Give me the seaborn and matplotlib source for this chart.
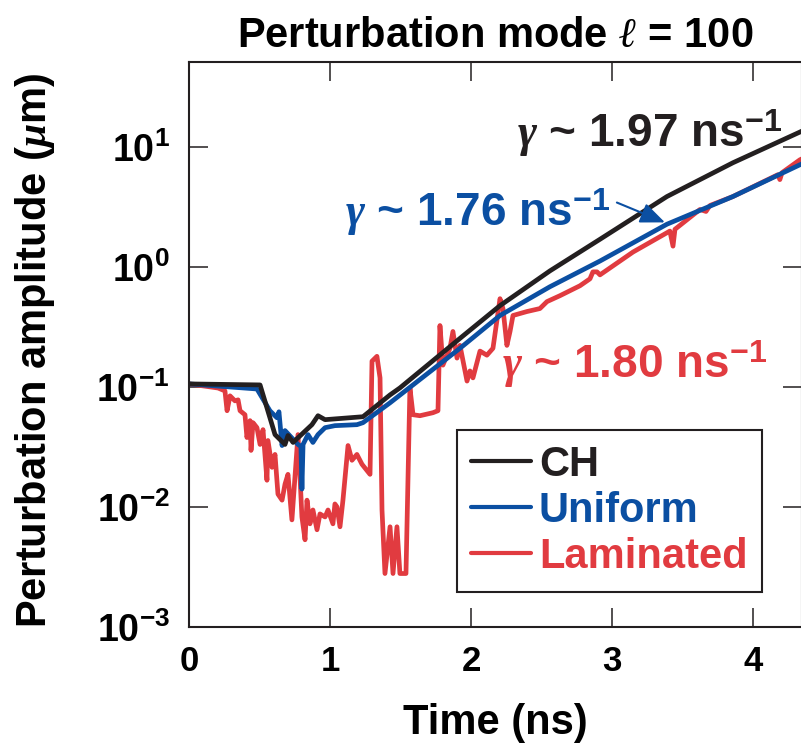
import numpy as np
import pandas as pd
import matplotlib
matplotlib.use("Agg")
import matplotlib.pyplot as plt
import seaborn as sns
from matplotlib.lines import Line2D
from matplotlib.ticker import FixedLocator, NullLocator

# ---------------- data ----------------
ch_time = [0.000, 0.504, 0.610, 0.645, 0.681, 0.702, 0.738, 0.872, 0.915, 0.965,
           1.234, 1.426, 1.496, 1.922, 2.206, 2.560, 2.915, 3.390, 3.858, 4.333, 4.400]
ch_amp = [0.106, 0.104, 0.0401, 0.0365, 0.0332, 0.0394, 0.0345, 0.0485, 0.0576, 0.0534,
          0.0565, 0.0859, 0.0982, 0.254, 0.476, 0.927, 1.70, 3.86, 7.38, 13.3, 14.5]

uni_time = [0.000, 0.482, 0.574, 0.624, 0.638, 0.660, 0.681, 0.773, 0.794, 0.801,
            0.809, 0.844, 0.879, 0.915, 0.965, 1.035, 1.191, 1.234, 1.426, 1.922,
            2.206, 2.560, 2.915, 3.390, 3.858, 4.333, 4.400]
uni_amp = [0.106, 0.0962, 0.0633, 0.0554, 0.0621, 0.0325, 0.0433, 0.0332, 0.0319, 0.0141,
           0.0332, 0.0401, 0.0345, 0.0401, 0.0458, 0.0476, 0.0485, 0.0504, 0.0738, 0.210,
           0.394, 0.684, 1.12, 2.27, 3.86, 7.10, 7.70]

lam_time = [0.000, 0.206, 0.255, 0.270, 0.291, 0.326, 0.348, 0.362, 0.397, 0.411,
            0.433, 0.440, 0.454, 0.482, 0.504, 0.525, 0.553, 0.560, 0.589, 0.610,
            0.631, 0.660, 0.681, 0.702, 0.730, 0.773, 0.801, 0.823, 0.837, 0.858,
            0.879, 0.908, 0.929, 0.965, 0.986, 1.021, 1.035, 1.050, 1.071, 1.092,
            1.128, 1.156, 1.191, 1.227, 1.284, 1.298, 1.333, 1.355, 1.369, 1.390,
            1.426, 1.447, 1.475, 1.496, 1.539, 1.567, 1.589, 1.638, 1.730, 1.766,
            1.780, 1.801, 1.851, 1.872, 1.901, 1.922, 1.972, 1.993, 2.014, 2.064,
            2.113, 2.156, 2.206, 2.227, 2.255, 2.277, 2.298, 2.397, 2.489, 2.539,
            2.631, 2.773, 2.844, 2.865, 2.894, 2.915, 3.149, 3.411, 3.433, 3.447,
            3.624, 3.667, 3.695, 3.858, 4.177, 4.191, 4.206, 4.333, 4.400]
lam_amp = [0.106, 0.098, 0.0927, 0.0634, 0.0843, 0.0766, 0.0781, 0.0634, 0.0587, 0.0379,
           0.0524, 0.0296, 0.0504, 0.0458, 0.0332, 0.0441, 0.0167, 0.0358, 0.0214, 0.0274,
           0.0128, 0.0114, 0.0155, 0.0187, 0.00781, 0.0401, 0.00826, 0.00533, 0.0114, 0.00724,
           0.00944, 0.00646, 0.00875, 0.00826, 0.00944, 0.00724, 0.0106, 0.0100, 0.00684, 0.0114,
           0.0325, 0.0245, 0.0274, 0.0227, 0.0187, 0.164, 0.180, 0.119, 0.00944, 0.00279,
           0.00684, 0.00279, 0.00684, 0.00279, 0.00279, 0.0982, 0.0587, 0.0576, 0.0610, 0.0634,
           0.325, 0.152, 0.210, 0.290, 0.174, 0.222, 0.112, 0.136, 0.119, 0.199,
           0.184, 0.210, 0.544, 0.450, 0.222, 0.290, 0.394, 0.425, 0.450, 0.514,
           0.576, 0.697, 0.796, 0.910, 0.910, 0.859, 1.33, 1.99, 1.49, 2.06,
           3.01, 2.90, 3.25, 3.86, 5.87, 5.34, 6.10, 7.81, 8.50]

series_names = ["CH", "Uniform", "Laminated"]
y_ticks = [1e-3, 1e-2, 1e-1, 1e0, 1e1]
x_ticks = [0, 1, 2, 3, 4]

# ---------------- style ----------------
DARK = "#231f20"
BLUE = "#0b4fa2"
RED = "#e13b40"
colors = [DARK, BLUE, RED]

sns.set_theme(style="ticks")
plt.rcParams["font.family"] = ["Liberation Sans", "DejaVu Sans"]
plt.rcParams["font.weight"] = "bold"
plt.rcParams["axes.titleweight"] = "bold"
plt.rcParams["axes.labelweight"] = "bold"
plt.rcParams["mathtext.fontset"] = "custom"
plt.rcParams["mathtext.rm"] = "Liberation Sans:bold"
plt.rcParams["mathtext.bf"] = "Liberation Sans:bold"
plt.rcParams["mathtext.sf"] = "Liberation Sans:bold"
plt.rcParams["mathtext.it"] = "Liberation Serif:italic:bold"

df = pd.concat([
    pd.DataFrame({"time": ch_time, "amp": ch_amp, "material": "CH"}),
    pd.DataFrame({"time": uni_time, "amp": uni_amp, "material": "Uniform"}),
    pd.DataFrame({"time": lam_time, "amp": lam_amp, "material": "Laminated"}),
], ignore_index=True)

fig = plt.figure(figsize=(8.01, 7.44), dpi=100)
ax = fig.add_axes([189 / 801, 117 / 744, 613 / 801, 565 / 744])
ax.set_yscale("log")

sns.lineplot(data=df, x="time", y="amp", hue="material", hue_order=series_names,
             palette=dict(zip(series_names, colors)), estimator=None, sort=False,
             lw=3.4, ax=ax, legend=False)
for line, z in zip(ax.lines, [2.3, 2.2, 2.1]):
    line.set_zorder(z)
    line.set_solid_joinstyle("round")

ax.set_xlim(0, 4.348)
ax.set_ylim(1e-3, 51)
ax.xaxis.set_major_locator(FixedLocator(x_ticks))
ax.yaxis.set_major_locator(FixedLocator(y_ticks))
ax.yaxis.set_minor_locator(NullLocator())
ax.xaxis.set_minor_locator(NullLocator())

ax.tick_params(axis="both", which="major", direction="in", length=13.5, width=1.1,
               color=DARK, top=True, right=True, labelcolor="black")
ax.tick_params(axis="x", labelsize=25, pad=13)
ax.tick_params(axis="y", labelsize=27, pad=14)
for s in ax.spines.values():
    s.set_linewidth(1.5)
    s.set_color(DARK)

ax.set_title(r"Perturbation mode $\ell$ = 100", fontsize=30, pad=11,
             color="black", fontweight="bold")
ax.set_xlabel("Time (ns)", fontsize=30, labelpad=18, color="black", fontweight="bold")
ax.set_ylabel(r"Perturbation amplitude ($\mu$m)", fontsize=30, color="black",
              fontweight="bold")
ax.yaxis.set_label_coords(-0.215, 0.49)

# growth-rate annotations
ax.text(2.326, 10.0, r"$\gamma$ ~ 1.97 ns$^{-1}$", color=DARK, fontsize=33,
        ha="left", va="baseline", zorder=4)
ax.text(1.106, 2.18, r"$\gamma$ ~ 1.76 ns$^{-1}$", color=BLUE, fontsize=33,
        ha="left", va="baseline", zorder=4)
ax.text(2.22, 0.119, r"$\gamma$ ~ 1.80 ns$^{-1}$", color=RED, fontsize=33,
        ha="left", va="baseline", zorder=4)
ax.annotate("", xy=(3.376, 2.35), xytext=(3.035, 3.44),
            arrowprops=dict(arrowstyle="-|>,head_length=0.6,head_width=0.25",
                            color=BLUE, lw=1.5, mutation_scale=25,
                            shrinkA=0, shrinkB=0), zorder=4)

handles = [Line2D([], [], color=c, lw=3) for c in colors]
leg = ax.legend(handles, series_names, loc="upper left", bbox_to_anchor=(0.437, 0.3487),
                borderaxespad=0, fontsize=30, handlelength=1.43, handletextpad=0.19,
                labelspacing=0.15, borderpad=0.35, frameon=True, fancybox=False,
                framealpha=1, edgecolor=DARK)
for t, c in zip(leg.get_texts(), colors):
    t.set_color(c)
leg.get_frame().set_linewidth(1.5)

fig.savefig("out.png", dpi=100)
